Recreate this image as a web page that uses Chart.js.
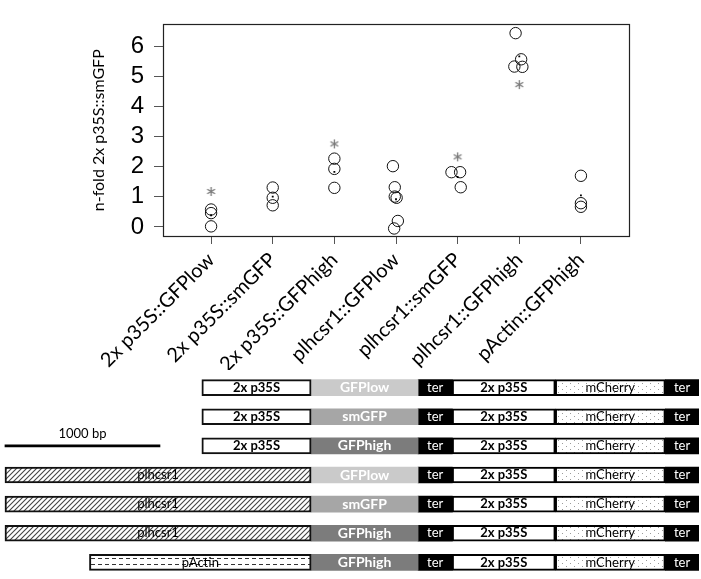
<!DOCTYPE html>
<html lang="en">
<head>
<meta charset="UTF-8">
<title>GFP constructs</title>
<script src="https://cdn.jsdelivr.net/npm/chart.js"></script>
<style>
  body { margin: 0; background: #fff; }
  #top { position: absolute; left: 0; top: 0; width: 701px; height: 370px; }
  #bottom { position: absolute; left: 0; top: 370px; width: 701px; height: 209px; }
</style>
</head>
<body>
<div id="top"><canvas id="fold"></canvas></div>
<div id="bottom"><canvas id="constructs"></canvas></div>

<script>
// ---- upper panel: n-fold values per construct ----
const categories = ['2x p35S::GFPlow', '2x p35S::smGFP', '2x p35S::GFPhigh',
                    'plhcsr1::GFPlow', 'plhcsr1::smGFP', 'plhcsr1::GFPhigh', 'pActin::GFPhigh'];
const catValues = [
  [0.58, 0.46, 0.02],
  [1.31, 0.97, 0.72],
  [2.27, 1.93, 1.30],
  [2.02, 1.32, 1.01, 0.97, 0.20, -0.05],
  [1.82, 1.82, 1.32],
  [6.44, 5.57, 5.33, 5.32],
  [1.70, 0.79, 0.67]
];
// small horizontal offsets of the circles (category units)
const catJitter = [
  [0, 0, 0],
  [0, 0, 0],
  [0, 0, 0],
  [-0.05, -0.02, -0.02, 0.01, 0.03, -0.03],
  [-0.1, 0.04, 0.05],
  [-0.06, 0.03, -0.08, 0.05],
  [0, 0, 0]
];
const meanValues = [0.39, 1.01, 1.83, 0.92, 1.66, 5.67, 1.05];
const starCats = [1, 3, 5, 6];
const starValues = [1.18, 2.76, 2.33, 4.73];
const yTicks = [0, 1, 2, 3, 4, 5, 6];

// ---- lower panel: construct maps (bp) ----
const rowIds = ['r1', 'r2', 'r3', 'r4', 'r5', 'r6', 'r7'];
const promoterNames = ['2x p35S', '2x p35S', '2x p35S', 'plhcsr1', 'plhcsr1', 'plhcsr1', 'pActin'];
const promoterLen = [705, 705, 705, 1975, 1975, 1975, 1430];
const cdsNames = ['GFPlow', 'smGFP', 'GFPhigh', 'GFPlow', 'smGFP', 'GFPhigh', 'GFPhigh'];
const promoterEnd = 1975;
const cdsLen = 690;
const terLen = 220;
const p35sLen = 665;
const mCherryLen = 710;
const ter2Len = 215;
const scaleBarLen = 1000;

const cdsColors = { GFPlow: '#cacaca', smGFP: '#a6a6a6', GFPhigh: '#7c7c7c' };

// patterns
function pattern(w, h, draw) {
  const c = document.createElement('canvas');
  c.width = w; c.height = h;
  const g = c.getContext('2d');
  g.fillStyle = '#fff';
  g.fillRect(0, 0, w, h);
  draw(g);
  return document.createElement('canvas').getContext('2d').createPattern(c, 'repeat');
}
const hatch = pattern(5, 5, g => {
  g.strokeStyle = '#444';
  g.lineWidth = 1.1;
  g.beginPath();
  g.moveTo(-1, 6); g.lineTo(6, -1);
  g.moveTo(-1, 1); g.lineTo(1, -1);
  g.moveTo(4, 6); g.lineTo(6, 4);
  g.stroke();
});
const dashes = pattern(7, 6, g => {
  g.fillStyle = '#333';
  g.fillRect(0, 2, 4, 1);
});
const dots = pattern(8, 6, g => {
  g.fillStyle = '#9a9a9a';
  g.fillRect(2, 1, 1, 1);
  g.fillRect(6, 4, 1, 1);
});
const promoterFill = { '2x p35S': '#fff', 'plhcsr1': hatch, 'pActin': dashes };
const promoterFont = { '2x p35S': 'bold 13px Lato', 'plhcsr1': '13px Lato', 'pActin': '13px Lato' };

function makeStar() {
  const c = document.createElement('canvas');
  c.width = 11; c.height = 11;
  const g = c.getContext('2d');
  g.strokeStyle = '#777';
  g.lineWidth = 1.3;
  for (let k = 0; k < 3; k++) {
    const a = Math.PI / 2 + k * Math.PI / 3;
    g.beginPath();
    g.moveTo(5.5 + 4.5 * Math.cos(a), 5.5 + 4.5 * Math.sin(a));
    g.lineTo(5.5 - 4.5 * Math.cos(a), 5.5 - 4.5 * Math.sin(a));
    g.stroke();
  }
  return c;
}

Chart.defaults.animation = false;
Chart.defaults.plugins.legend.display = false;
Chart.defaults.plugins.tooltip.enabled = false;

// box around the plot area
const boxPlugin = {
  id: 'box',
  afterDraw(chart) {
    const a = chart.chartArea, ctx = chart.ctx;
    ctx.save();
    ctx.strokeStyle = '#222';
    ctx.lineWidth = 1.2;
    ctx.strokeRect(Math.round(a.left) + 0.5, Math.round(a.top) + 0.5,
                   Math.round(a.right - a.left), Math.round(a.bottom - a.top));
    ctx.restore();
  }
};

let circlePts = [];
catValues.forEach((vals, i) => {
  vals.forEach((v, k) => circlePts.push({ x: i + 1 + catJitter[i][k], y: v }));
});

new Chart(document.getElementById('fold'), {
  type: 'scatter',
  data: {
    datasets: [
      {
        data: meanValues.map((v, i) => ({ x: i + 1, y: v })),
        pointStyle: 'rect', pointRadius: 1.3, backgroundColor: '#000', borderWidth: 0
      },
      {
        data: starCats.map((c, k) => ({ x: c, y: starValues[k] })),
        pointStyle: makeStar(), pointRadius: 5
      },
      {
        data: circlePts,
        pointStyle: 'circle', pointRadius: 5.7, borderColor: '#111', borderWidth: 1,
        backgroundColor: 'rgba(0,0,0,0)'
      }
    ]
  },
  options: {
    responsive: true,
    maintainAspectRatio: false,
    layout: { padding: { top: 4, right: 72, left: 0, bottom: 0 } },
    scales: {
      x: {
        type: 'linear', min: 0.22, max: 7.78,
        afterBuildTicks: s => { s.ticks = categories.map((c, i) => ({ value: i + 1 })); },
        afterFit: s => { s.height = 134; },
        ticks: {
          autoSkip: false, minRotation: 45, maxRotation: 45, padding: 4,
          color: '#000', font: { family: 'Lato', size: 20 },
          callback: (v, i) => categories[i]
        },
        grid: { drawOnChartArea: false, tickLength: 8, color: '#555' },
        border: { display: false }
      },
      y: {
        min: -0.3, max: 6.73,
        afterBuildTicks: s => { s.ticks = yTicks.map(v => ({ value: v })); },
        afterFit: s => { s.width = 163; },
        ticks: { padding: 10, color: '#000', font: { family: 'Liberation Sans', size: 24 } },
        grid: { drawOnChartArea: false, tickLength: 9, color: '#555' },
        border: { display: false },
        title: {
          display: true, text: 'n-fold 2x p35S::smGFP', color: '#000',
          font: { family: 'Lato', size: 16 }, padding: { top: 89, bottom: 0 }
        }
      }
    }
  },
  plugins: [boxPlugin]
});

// ---- construct maps ----
const segLabelPlugin = {
  id: 'segLabels',
  afterDatasetsDraw(chart) {
    const ctx = chart.ctx;
    chart.data.datasets.forEach((ds, i) => {
      if (!ds.segLabels) return;
      const meta = chart.getDatasetMeta(i);
      ctx.save();
      ctx.fillStyle = ds.labelColor;
      ctx.textAlign = 'center';
      ctx.textBaseline = 'middle';
      meta.data.forEach((el, j) => {
        const t = ds.segLabels[j];
        if (!t || ds.data[j] == null) return;
        ctx.font = Array.isArray(ds.labelFont) ? ds.labelFont[j] : ds.labelFont;
        ctx.fillText(t, (el.x + el.base) / 2, el.y + (ds.labelDy || 0));
      });
      ctx.restore();
    });
  }
};

function spans(offset, len) {
  return rowIds.map(() => [promoterEnd + offset, promoterEnd + offset + len]);
}
const cdsEnd = cdsLen;
const ter1End = cdsEnd + terLen;
const p35sEnd = ter1End + p35sLen;
const mCherryEnd = p35sEnd + mCherryLen;

const segBase = { barThickness: 16, grouped: false, borderSkipped: false };

new Chart(document.getElementById('constructs'), {
  type: 'bar',
  data: {
    labels: rowIds,
    datasets: [
      Object.assign({}, segBase, {
        data: promoterLen.map(l => [promoterEnd - l, promoterEnd]),
        backgroundColor: promoterNames.map(n => promoterFill[n]),
        borderColor: '#111', borderWidth: 2,
        segLabels: promoterNames,
        labelFont: promoterNames.map(n => promoterFont[n]), labelColor: '#000'
      }),
      Object.assign({}, segBase, {
        data: spans(0, cdsLen),
        backgroundColor: cdsNames.map(n => cdsColors[n]), borderWidth: 0,
        segLabels: cdsNames, labelFont: 'bold 14px Lato', labelColor: '#fff'
      }),
      Object.assign({}, segBase, {
        data: spans(cdsEnd, terLen),
        backgroundColor: '#000', borderWidth: 0,
        segLabels: rowIds.map(() => 'ter'), labelFont: '13px Lato', labelColor: '#fff'
      }),
      Object.assign({}, segBase, {
        data: spans(ter1End, p35sLen),
        backgroundColor: '#fff', borderColor: '#000', borderWidth: 2,
        segLabels: rowIds.map(() => '2x p35S'), labelFont: 'bold 13px Lato', labelColor: '#000'
      }),
      Object.assign({}, segBase, {
        data: spans(p35sEnd, mCherryLen),
        backgroundColor: dots, borderColor: '#000', borderWidth: 2,
        segLabels: rowIds.map(() => 'mCherry'), labelFont: '13px Lato', labelColor: '#000'
      }),
      Object.assign({}, segBase, {
        data: spans(mCherryEnd, ter2Len),
        backgroundColor: '#000', borderWidth: 0,
        segLabels: rowIds.map(() => 'ter'), labelFont: '13px Lato', labelColor: '#fff'
      }),
      Object.assign({}, segBase, {
        data: rowIds.map((r, i) => i === 2 ? [0, scaleBarLen] : null),
        barThickness: 2, backgroundColor: '#000', borderWidth: 0,
        segLabels: rowIds.map((r, i) => i === 2 ? scaleBarLen + ' bp' : ''),
        labelFont: '13px Lato', labelColor: '#000', labelDy: -12
      })
    ]
  },
  options: {
    indexAxis: 'y',
    responsive: true,
    maintainAspectRatio: false,
    layout: { padding: { top: 3, bottom: 2, left: 0, right: 0 } },
    scales: {
      x: { type: 'linear', min: -32, max: 4490, display: false },
      y: { type: 'category', display: false }
    }
  },
  plugins: [segLabelPlugin]
});
</script>
</body>
</html>
